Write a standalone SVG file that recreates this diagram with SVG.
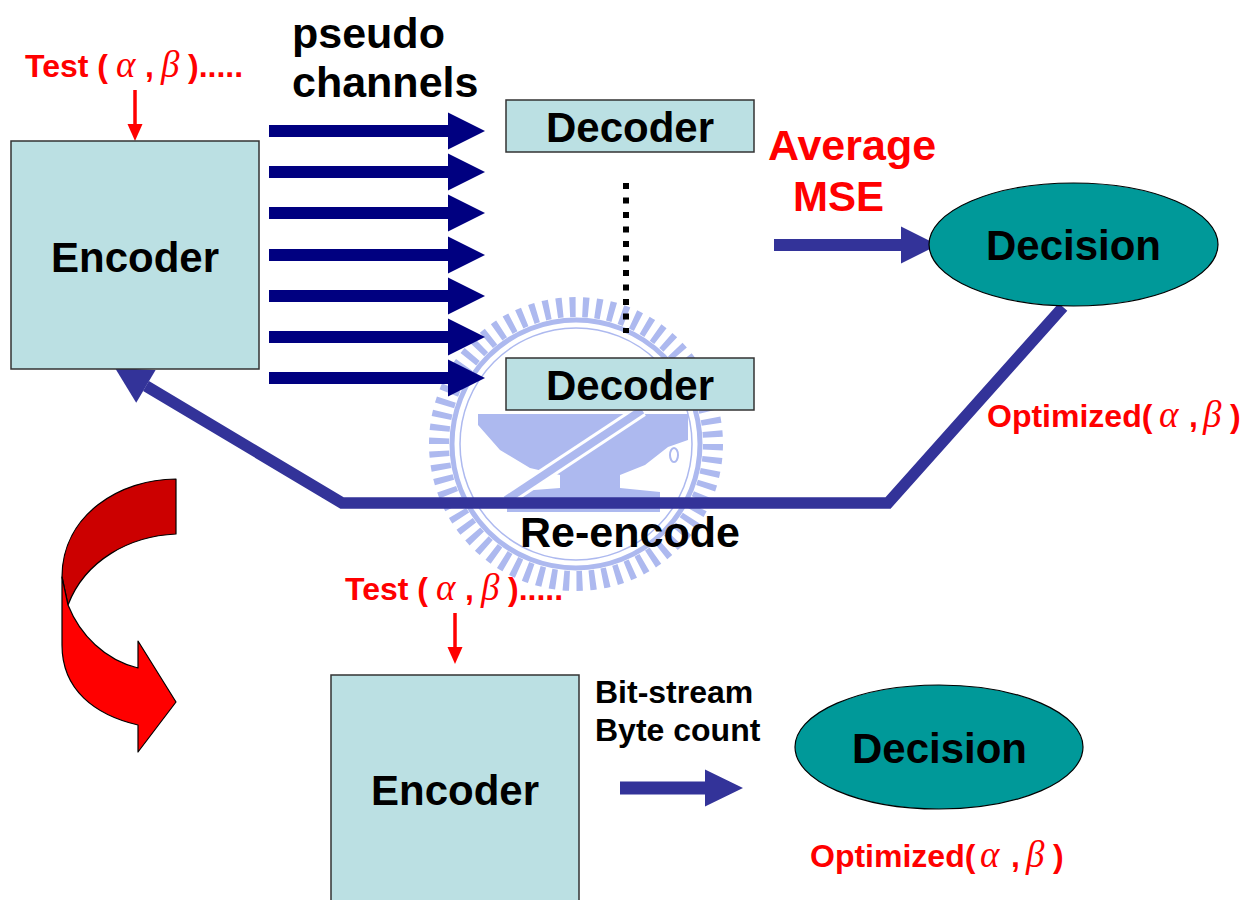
<svg xmlns="http://www.w3.org/2000/svg" width="1253" height="900" viewBox="0 0 1253 900">
  <style>
    .box { fill: #BBE0E3; stroke: #333333; stroke-width: 1.5; }
    .oval { fill: #009999; stroke: #000000; stroke-width: 1.2; }
    .lbl { font-family: "Liberation Sans", Arial, sans-serif; font-weight: bold; fill: #000000; }
    .big { font-size: 42px; }
    .red { fill: #FF0000; }
    .mid { font-size: 32px; }
    .greek { font-family: "Liberation Serif", "Times New Roman", serif; font-style: italic; font-weight: normal; font-size: 37px; }
    .navy { fill: #000080; }
    .indigo { fill: #333399; }
    .mark { fill: #adb9ef; }
  </style>
  <defs>
    <!-- block arrow used for each pseudo channel -->
    <path id="chan" d="M0,-6 H179 V-18.5 L216,0 L179,18.5 V6 H0 Z"/>
  </defs>

  <rect width="1253" height="900" fill="#FFFFFF"/>

  <!-- faint seal in the background -->
  <g id="seal">
    <circle cx="576" cy="444" r="137" fill="none" stroke="#adb9ef" stroke-width="20" stroke-dasharray="6 7.04"/>
    <circle cx="576" cy="444" r="124" fill="none" stroke="#adb9ef" stroke-width="5"/>
    <circle cx="576" cy="444" r="116" fill="none" stroke="#adb9ef" stroke-width="1.5"/>
    <polygon class="mark" points="478,414 688,414 688,440 668,447 645,465 620,475 620,488 660,492 660,512 507,512 507,492 560,488 560,475 530,468 500,450 478,425"/>
    <line x1="642" y1="410" x2="506" y2="500" stroke="#FFFFFF" stroke-width="14"/>
    <line x1="642" y1="410" x2="506" y2="500" stroke="#adb9ef" stroke-width="8"/>
    <ellipse cx="674" cy="455" rx="4" ry="7" fill="none" stroke="#adb9ef" stroke-width="2"/>
  </g>

  <!-- curved red arrow between the two schemes -->
  <g id="turn-arrow" stroke="#000000" stroke-width="1.2" stroke-linejoin="round">
    <path d="M176,479 C120,479 62,515 62,577 L68,605 C85,560 130,536 176,534 Z" fill="#CC0000"/>
    <path d="M62,577 L68,605 C80,635 105,660 138,668 L138,641 L176,702 L138,752 L138,725 C95,715 62,690 62,645 Z" fill="#FF0000"/>
  </g>

  <!-- connectors -->
  <g id="connectors">
    <g class="navy">
      <use href="#chan" transform="translate(269,131)"/>
      <use href="#chan" transform="translate(269,172)"/>
      <use href="#chan" transform="translate(269,213)"/>
      <use href="#chan" transform="translate(269,255)"/>
      <use href="#chan" transform="translate(269,296)"/>
      <use href="#chan" transform="translate(269,337)"/>
      <use href="#chan" transform="translate(269,378)"/>
    </g>
    <line x1="626" y1="183" x2="626" y2="333" stroke="#000000" stroke-width="6" stroke-dasharray="6 8.5"/>
    <path class="indigo" d="M774,239 H901 V226.5 L938,245 L901,263.5 V251 H774 Z"/>
    <path d="M1063,307 L888,503 L342,503 L146,386" fill="none" stroke="#333399" stroke-width="11.5" stroke-linejoin="miter"/>
    <polygon class="indigo" points="115,368 155.6,370.1 136.2,402.7"/>
    <path class="indigo" d="M620,781.5 H705 V769.5 L743,788 L705,806.5 V794.5 H620 Z"/>
    <line x1="135" y1="90" x2="135" y2="126" stroke="#FF0000" stroke-width="3.5"/>
    <polygon points="127.5,124 142.5,124 135,141" fill="#FF0000"/>
    <line x1="455" y1="613" x2="455" y2="649" stroke="#FF0000" stroke-width="3.5"/>
    <polygon points="447.5,647 462.5,647 455,664" fill="#FF0000"/>
  </g>

  <!-- upper scheme -->
  <g id="encoder-top">
    <rect class="box" x="11" y="141" width="248" height="228"/>
    <text class="lbl big" x="135" y="272" text-anchor="middle">Encoder</text>
  </g>
  <g id="decoder-first">
    <rect class="box" x="506" y="100" width="248" height="52"/>
    <text class="lbl big" x="630" y="142" text-anchor="middle">Decoder</text>
  </g>
  <g id="decoder-last">
    <rect class="box" x="506" y="358" width="248" height="52"/>
    <text class="lbl big" x="630" y="400" text-anchor="middle">Decoder</text>
  </g>
  <g id="decision-top">
    <ellipse class="oval" cx="1073.5" cy="244.5" rx="144.5" ry="61.5"/>
    <text class="lbl big" x="1073.5" y="260" text-anchor="middle">Decision</text>
  </g>

  <!-- lower scheme -->
  <g id="encoder-bottom">
    <rect class="box" x="331" y="675" width="248" height="235"/>
    <text class="lbl big" x="455" y="805" text-anchor="middle">Encoder</text>
  </g>
  <g id="decision-bottom">
    <ellipse class="oval" cx="939" cy="747" rx="144" ry="62"/>
    <text class="lbl big" x="939.5" y="763" text-anchor="middle">Decision</text>
  </g>

  <!-- labels -->
  <g id="labels">
    <text class="lbl" font-size="43" x="292" y="48">pseudo</text>
    <text class="lbl" font-size="43" x="292" y="97">channels</text>
    <text class="lbl red" font-size="43" x="768" y="160">Average</text>
    <text class="lbl red big" x="793" y="211">MSE</text>
    <text class="lbl" font-size="43" x="520" y="547">Re-encode</text>
    <text class="lbl mid" x="595" y="703">Bit-stream</text>
    <text class="lbl mid" x="595" y="741">Byte count</text>

    <text class="lbl red mid" y="77"><tspan x="25">Test (</tspan><tspan class="greek" x="116">α</tspan><tspan x="145">,</tspan><tspan class="greek" x="161">β</tspan><tspan x="188">).....</tspan></text>
    <text class="lbl red mid" y="600"><tspan x="345">Test (</tspan><tspan class="greek" x="436">α</tspan><tspan x="465">,</tspan><tspan class="greek" x="481">β</tspan><tspan x="508">).....</tspan></text>
    <text class="lbl red mid" y="427"><tspan x="987">Optimized(</tspan><tspan class="greek" x="1159">α</tspan><tspan x="1189">,</tspan><tspan class="greek" x="1203">β</tspan><tspan x="1230">)</tspan></text>
    <text class="lbl red mid" y="867"><tspan x="810">Optimized(</tspan><tspan class="greek" x="980">α</tspan><tspan x="1011">,</tspan><tspan class="greek" x="1026">β</tspan><tspan x="1053">)</tspan></text>
  </g>
</svg>
